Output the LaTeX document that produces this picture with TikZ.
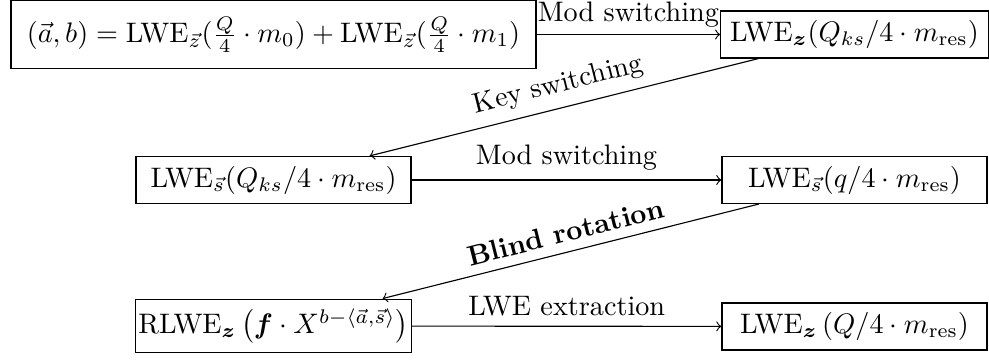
\documentclass[tikz,border=0pt]{standalone}
\usepackage{amsmath,amssymb}
\begin{document}
\begin{tikzpicture}[x=0.35461pt,y=-0.35461pt,
  box/.style={draw,rectangle},
  colA/.style={box,minimum width=97.5pt},
  colB/.style={box,minimum width=94pt},
  conn/.style={->}]
\useasboundingbox (0,0) rectangle (989,360);
\node[box,inner sep=5.6pt] (b1) at (273.5,34.5) {$(\vec{a},b) = \mathrm{LWE}_{\vec{z}}(\frac{Q}{4}\cdot m_0) + \mathrm{LWE}_{\vec{z}}(\frac{Q}{4}\cdot m_1)$};
\node[colB] (b2) at (854.5,34.5) {$\mathrm{LWE}_{\boldsymbol{z}}(Q_{ks}/4\cdot m_{\mathrm{res}})$};
\node[colA] (b3) at (273.5,180) {$\mathrm{LWE}_{\vec{s}}(Q_{ks}/4\cdot m_{\mathrm{res}})$};
\node[colB] (b4) at (854.5,180) {$\mathrm{LWE}_{\vec{s}}(q/4\cdot m_{\mathrm{res}})$};
\node[colA,inner xsep=1pt] (b5) at (273.5,326) {$\mathrm{RLWE}_{\boldsymbol{z}}\left(\boldsymbol{f}\cdot X^{b-\langle\vec{a},\vec{s}\rangle}\right)$};
\node[colB] (b6) at (854.5,326.5) {$\mathrm{LWE}_{\boldsymbol{z}}\left(Q/4\cdot m_{\mathrm{res}}\right)$};
\draw[conn] (b1) -- node[above,inner sep=2.3pt] {Mod switching} (b2);
\draw[conn] (b2) -- node[above,sloped] {Key switching} (b3);
\draw[conn] (b3) -- node[above] {Mod switching} (b4);
\draw[conn] (b4) -- node[above,sloped] {\textbf{Blind rotation}} (b5);
\draw[conn] (b5) -- node[above] {LWE extraction} (b6);
\end{tikzpicture}
\end{document}
